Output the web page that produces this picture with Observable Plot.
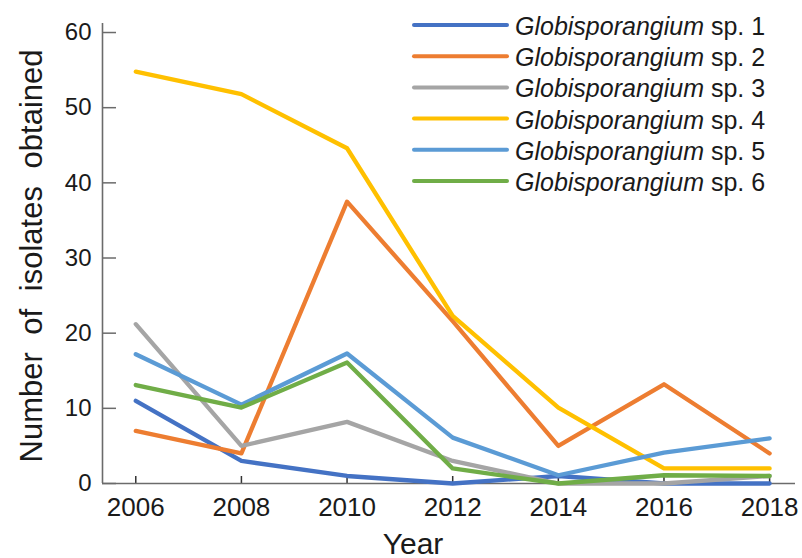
<!DOCTYPE html>
<html>
<head>
<meta charset="utf-8">
<script src="https://cdn.jsdelivr.net/npm/d3@7"></script>
<script src="https://cdn.jsdelivr.net/npm/@observablehq/plot@0.6"></script>
<style>
  html, body { margin: 0; padding: 0; background: #fff; }
  svg { display: block; }
</style>
</head>
<body>
<div id="chart"></div>
<script>
// ---- data ----
const years = [2006, 2008, 2010, 2012, 2014, 2016, 2018];
const seriesGenus = "Globisporangium";
const seriesSuffix = ["sp. 1", "sp. 2", "sp. 3", "sp. 4", "sp. 5", "sp. 6"];
const sp1 = [11, 3, 1, 0, 1, 0, 0];
const sp2 = [7, 4, 37.5, 21.6, 5, 13.2, 4];
const sp3 = [21.2, 5, 8.2, 3, 0, 0, 1];
const sp4 = [54.8, 51.8, 44.6, 22.3, 10.1, 2, 2];
const sp5 = [17.2, 10.5, 17.3, 6.1, 1.1, 4.1, 6];
const sp6 = [13.1, 10.1, 16.1, 2, 0, 1.1, 1];
const yTicks = [0, 10, 20, 30, 40, 50, 60];
const colors = ["#4472C4", "#ED7D31", "#A5A5A5", "#FFC000", "#5B9BD5", "#70AD47"];
const xTitle = "Year";
const yTitle = "Number of isolates obtained";

// ---- layout ----
const W = 802, H = 558, mL = 102, mR = 7, mT = 23, mB = 75;
const frameW = W - mL - mR, frameH = H - mT - mB;
const xDomain = [2005.37, 2018.49];
const yDomain = [0, 61.2];
const axisColor = "#6b6b6b";
const font = "'Liberation Sans', Arial, Helvetica, sans-serif";

const seriesNames = seriesSuffix.map(s => `${seriesGenus} ${s}`);
const seriesValues = [sp1, sp2, sp3, sp4, sp5, sp6];
const rows = [];
seriesNames.forEach((name, i) => {
  seriesValues[i].forEach((v, j) => rows.push({year: years[j], value: v, series: name}));
});

const plot = Plot.plot({
  width: W, height: H,
  marginLeft: mL, marginRight: mR, marginTop: mT, marginBottom: mB,
  style: {fontFamily: font, background: "#fff", color: "#1a1a1a", overflow: "visible"},
  x: {type: "linear", domain: xDomain},
  y: {type: "linear", domain: yDomain},
  color: {domain: seriesNames, range: colors},
  marks: [
    Plot.axisX({ticks: years, tickFormat: "d", tickSize: 0, tickPadding: 14, fontSize: 26, label: null, fill: "#1a1a1a"}),
    Plot.axisY({ticks: yTicks, tickSize: 0, tickPadding: 11, fontSize: 24, label: null, fill: "#1a1a1a"}),
    Plot.tickY(yTicks, {y: d => d, insetRight: frameW - 14, stroke: axisColor, strokeWidth: 1.5}),
    Plot.tickX(years, {x: d => d, insetTop: frameH - 7, stroke: "#333", strokeWidth: 1.5}),
    Plot.ruleX([xDomain[0]], {stroke: axisColor, strokeWidth: 1.6}),
    Plot.ruleY([0], {stroke: axisColor, strokeWidth: 1.6}),
    Plot.line(rows, {
      x: "year", y: "value", z: "series", stroke: "series",
      strokeWidth: 4.3, strokeLinecap: "round", strokeLinejoin: "round"
    })
  ]
});

document.getElementById("chart").appendChild(plot);

const svg = d3.select(plot);

// axis titles
svg.append("text")
  .attr("x", 413).attr("y", 553.5)
  .attr("text-anchor", "middle")
  .attr("font-family", font).attr("font-size", 30)
  .attr("fill", "#1a1a1a")
  .text(xTitle);

svg.append("text")
  .attr("transform", "translate(42,256) rotate(-90)")
  .attr("text-anchor", "middle")
  .attr("font-family", font).attr("font-size", 31)
  .style("word-spacing", "9px")
  .attr("fill", "#1a1a1a")
  .text(yTitle);

// legend
const lg = svg.append("g")
  .attr("font-family", font).attr("font-size", 25)
  .attr("fill", "#1a1a1a").attr("text-anchor", "start");
seriesNames.forEach((name, i) => {
  const yy = 25 + i * 31.2;
  lg.append("line")
    .attr("x1", 414).attr("x2", 507).attr("y1", yy).attr("y2", yy)
    .attr("stroke", colors[i]).attr("stroke-width", 4).attr("stroke-linecap", "round");
  const t = lg.append("text").attr("x", 515).attr("y", yy + 10).attr("text-anchor", "start");
  t.append("tspan").attr("font-style", "italic").text(seriesGenus);
  t.append("tspan").text(" " + seriesSuffix[i]);
});
</script>
</body>
</html>
